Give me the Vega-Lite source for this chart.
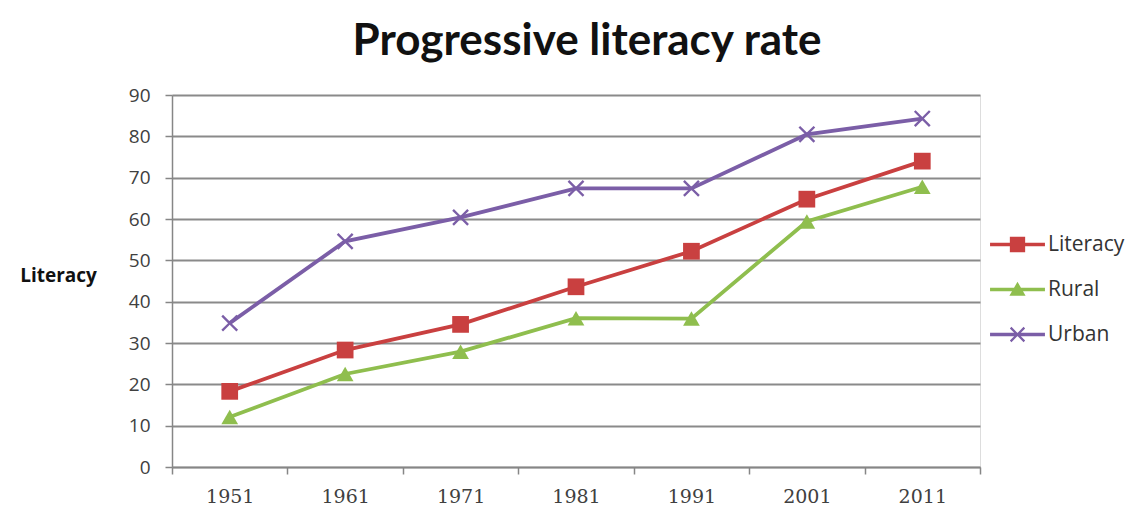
{
  "$schema": "https://vega.github.io/schema/vega-lite/v6.json",
  "width": 808,
  "height": 372,
  "autosize": {"type": "none"},
  "padding": {"left": 172, "top": 95, "right": 154, "bottom": 42},
  "background": "white",
  "title": {
    "text": "Progressive literacy rate",
    "font": "Lato",
    "fontSize": 44,
    "fontWeight": "bold",
    "color": "#111111",
    "anchor": "middle",
    "offset": 22,
    "dx": 11
  },
  "data": {
    "values": [
      {"year": "1951", "series": "Literacy", "value": 18.3},
      {"year": "1961", "series": "Literacy", "value": 28.3},
      {"year": "1971", "series": "Literacy", "value": 34.5},
      {"year": "1981", "series": "Literacy", "value": 43.6},
      {"year": "1991", "series": "Literacy", "value": 52.2},
      {"year": "2001", "series": "Literacy", "value": 64.8},
      {"year": "2011", "series": "Literacy", "value": 74.0},
      {"year": "1951", "series": "Rural", "value": 12.1},
      {"year": "1961", "series": "Rural", "value": 22.5},
      {"year": "1971", "series": "Rural", "value": 27.9},
      {"year": "1981", "series": "Rural", "value": 36.0},
      {"year": "1991", "series": "Rural", "value": 35.9},
      {"year": "2001", "series": "Rural", "value": 59.4},
      {"year": "2011", "series": "Rural", "value": 67.8},
      {"year": "1951", "series": "Urban", "value": 34.8},
      {"year": "1961", "series": "Urban", "value": 54.6},
      {"year": "1971", "series": "Urban", "value": 60.4},
      {"year": "1981", "series": "Urban", "value": 67.4},
      {"year": "1991", "series": "Urban", "value": 67.4},
      {"year": "2001", "series": "Urban", "value": 80.5},
      {"year": "2011", "series": "Urban", "value": 84.3}
    ]
  },
  "encoding": {
    "x": {
      "field": "year",
      "type": "ordinal",
      "bandPosition": 0.5,
      "scale": {"type": "band", "paddingInner": 0, "paddingOuter": 0},
      "axis": {
        "title": null,
        "labelAngle": 0,
        "tickBand": "extent",
        "labelFont": "DejaVu Serif",
        "labelFontSize": 19,
        "labelColor": "#404040",
        "labelPadding": 13,
        "domainColor": "#868686",
        "domainWidth": 1.5,
        "tickColor": "#868686",
        "tickWidth": 1.5,
        "tickSize": 7,
        "grid": false
      }
    },
    "y": {
      "field": "value",
      "type": "quantitative",
      "scale": {"domain": [0, 90], "nice": false},
      "axis": {
        "title": "Literacy",
        "titleAngle": 0,
        "titleAlign": "center",
        "titleBaseline": "middle",
        "titleX": -114,
        "titleY": 180,
        "titleFont": "Open Sans",
        "titleFontSize": 19,
        "titleFontWeight": "bold",
        "titleColor": "#111111",
        "values": [0, 10, 20, 30, 40, 50, 60, 70, 80, 90],
        "labelFont": "Open Sans",
        "labelFontSize": 19,
        "labelColor": "#404040",
        "labelPadding": 15,
        "domainColor": "#868686",
        "domainWidth": 1.5,
        "tickColor": "#868686",
        "tickWidth": 1.5,
        "tickSize": 7,
        "grid": true,
        "gridColor": "#8a8a8a",
        "gridWidth": 2
      }
    },
    "color": {
      "field": "series",
      "type": "nominal",
      "scale": {"domain": ["Literacy", "Rural", "Urban"], "range": ["#C94040", "#8FBE4E", "#7B5EA7"]},
      "legend": {
        "title": null,
        "orient": "none",
        "legendX": 823,
        "legendY": 127,
        "labelFont": "Open Sans",
        "labelFontSize": 21,
        "labelColor": "#333333",
        "labelOffset": 8,
        "symbolSize": 2025,
        "rowPadding": 12,
        "encode": {
          "symbols": {
            "update": {
              "shape": {"signal": "datum.value === 'Literacy' ? 'M-1.22,-0.08H1.22V0.08H-1.22Z M-0.34,-0.34H0.34V0.34H-0.34Z' : datum.value === 'Rural' ? 'M-1.22,-0.08H1.22V0.08H-1.22Z M-0.36,0.28L0,-0.34L0.36,0.28Z' : 'M-1.22,-0.08H1.22V0.08H-1.22Z M-0.34,-0.27L-0.27,-0.34L0,-0.07L0.27,-0.34L0.34,-0.27L0.07,0L0.34,0.27L0.27,0.34L0,0.07L-0.27,0.34L-0.34,0.27L-0.07,0Z'"},
              "fill": {"scale": "color", "field": "value"},
              "fillOpacity": {"value": 1},
              "strokeWidth": {"value": 0}
            }
          }
        }
      }
    }
  },
  "layer": [
    {
      "mark": {"type": "line", "strokeWidth": 3.8},
      "encoding": {}
    },
    {
      "transform": [{"filter": "datum.series === 'Literacy'"}],
      "mark": {"type": "point", "filled": true, "opacity": 1, "size": 280, "shape": "square"}
    },
    {
      "transform": [{"filter": "datum.series === 'Rural'"}],
      "mark": {"type": "point", "filled": true, "opacity": 1, "size": 280, "shape": "triangle-up"}
    },
    {
      "transform": [{"filter": "datum.series === 'Urban'"}],
      "mark": {"type": "point", "filled": true, "opacity": 1, "size": 280, "shape": "M-1,-0.8L-0.8,-1L0,-0.2L0.8,-1L1,-0.8L0.2,0L1,0.8L0.8,1L0,0.2L-0.8,1L-1,0.8L-0.2,0Z"}
    }
  ]
}
